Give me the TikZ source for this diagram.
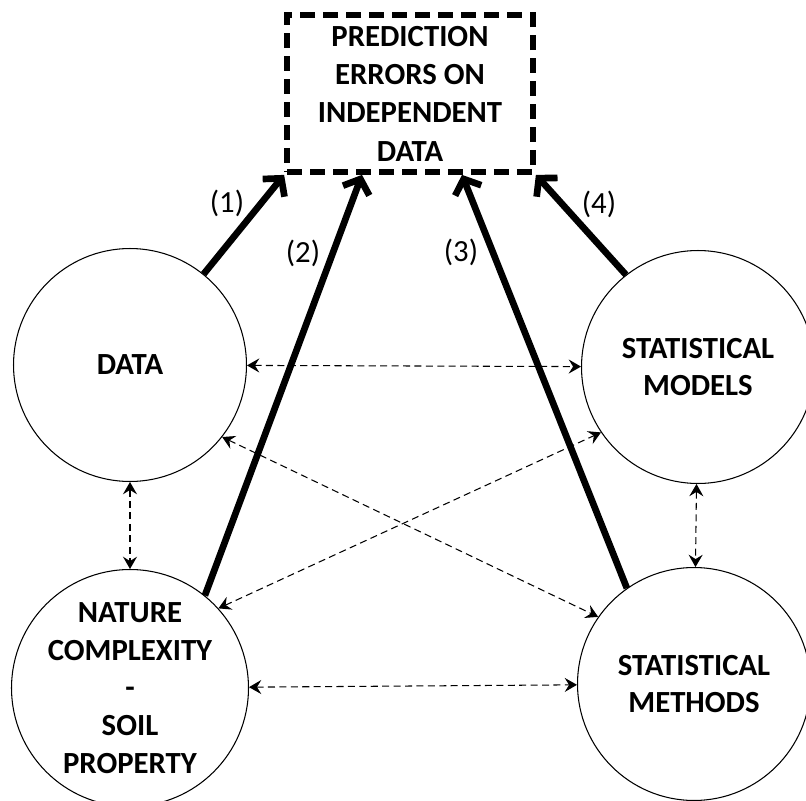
\documentclass[tikz,border=0pt]{standalone}
\usepackage{fontspec}
\setmainfont{Carlito}
\usetikzlibrary{arrows.meta}

\tikzset{
  ympyra/.style={draw, circle, line width=0.6pt, minimum size=4.66cm, inner sep=0pt, align=center,
    font=\bfseries\fontsize{17.5}{21.5}\selectfont},
  laatikko/.style={draw, line width=3.3pt, dash pattern=on 0.3cm off 0.16cm, minimum width=4.92cm,
    minimum height=3.14cm, align=center, font=\bfseries\fontsize{17.5}{21.8}\selectfont},
  nuoli/.style={line width=3.8pt, -{Straight Barb[length=7pt, width=16pt]}},
  katko/.style={line width=0.6pt, dash pattern=on 4pt off 2.5pt,
    {Stealth[length=7pt, width=8pt, inset=2.5pt]}-{Stealth[length=7pt, width=8pt, inset=2.5pt]}},
  numero/.style={font=\fontsize{17.5}{21.5}\selectfont}
}

\begin{document}
\begin{tikzpicture}[x=0.02cm, y=-0.02cm]
\useasboundingbox (0,0) rectangle (806,801);

%laatikko
\node[laatikko] (virhe) at (410,93.5) {PREDICTION\\ERRORS ON\\INDEPENDENT\\DATA};

%ympyrat
\node[ympyra] (data) at (130,365) {DATA};
\node[ympyra] (luonto) at (130,688) {NATURE\\COMPLEXITY\\-\\SOIL\\PROPERTY};
\node[ympyra] (mallit) at (698,367) {STATISTICAL\\MODELS};
\node[ympyra] (menetelmat) at (694,684) {STATISTICAL\\METHODS};

%paksut nuolet
\draw[nuoli] (data.51) -- (virhe.south west);
\draw[nuoli] (luonto.51) -- ([xshift=-0.96cm]virhe.south);
\draw[nuoli] (menetelmat.125) -- ([xshift=1.04cm]virhe.south);
\draw[nuoli] (mallit.128) -- (virhe.south east);

\node[numero] (n1) at (227,203) {(1)};
\node[numero] (n2) at (303,253) {(2)};
\node[numero] (n3) at (461,252) {(3)};
\node[numero] (n4) at (599,204) {(4)};

%katkoviivat
\draw[katko] (data) -- (mallit);
\draw[katko] (luonto) -- (menetelmat);
\draw[katko] (data) -- (luonto);
\draw[katko] (mallit) -- (menetelmat);
\draw[katko] (data.-38) -- (menetelmat.145);
\draw[katko] (luonto.42) -- (mallit.-146);

\end{tikzpicture}
\end{document}
